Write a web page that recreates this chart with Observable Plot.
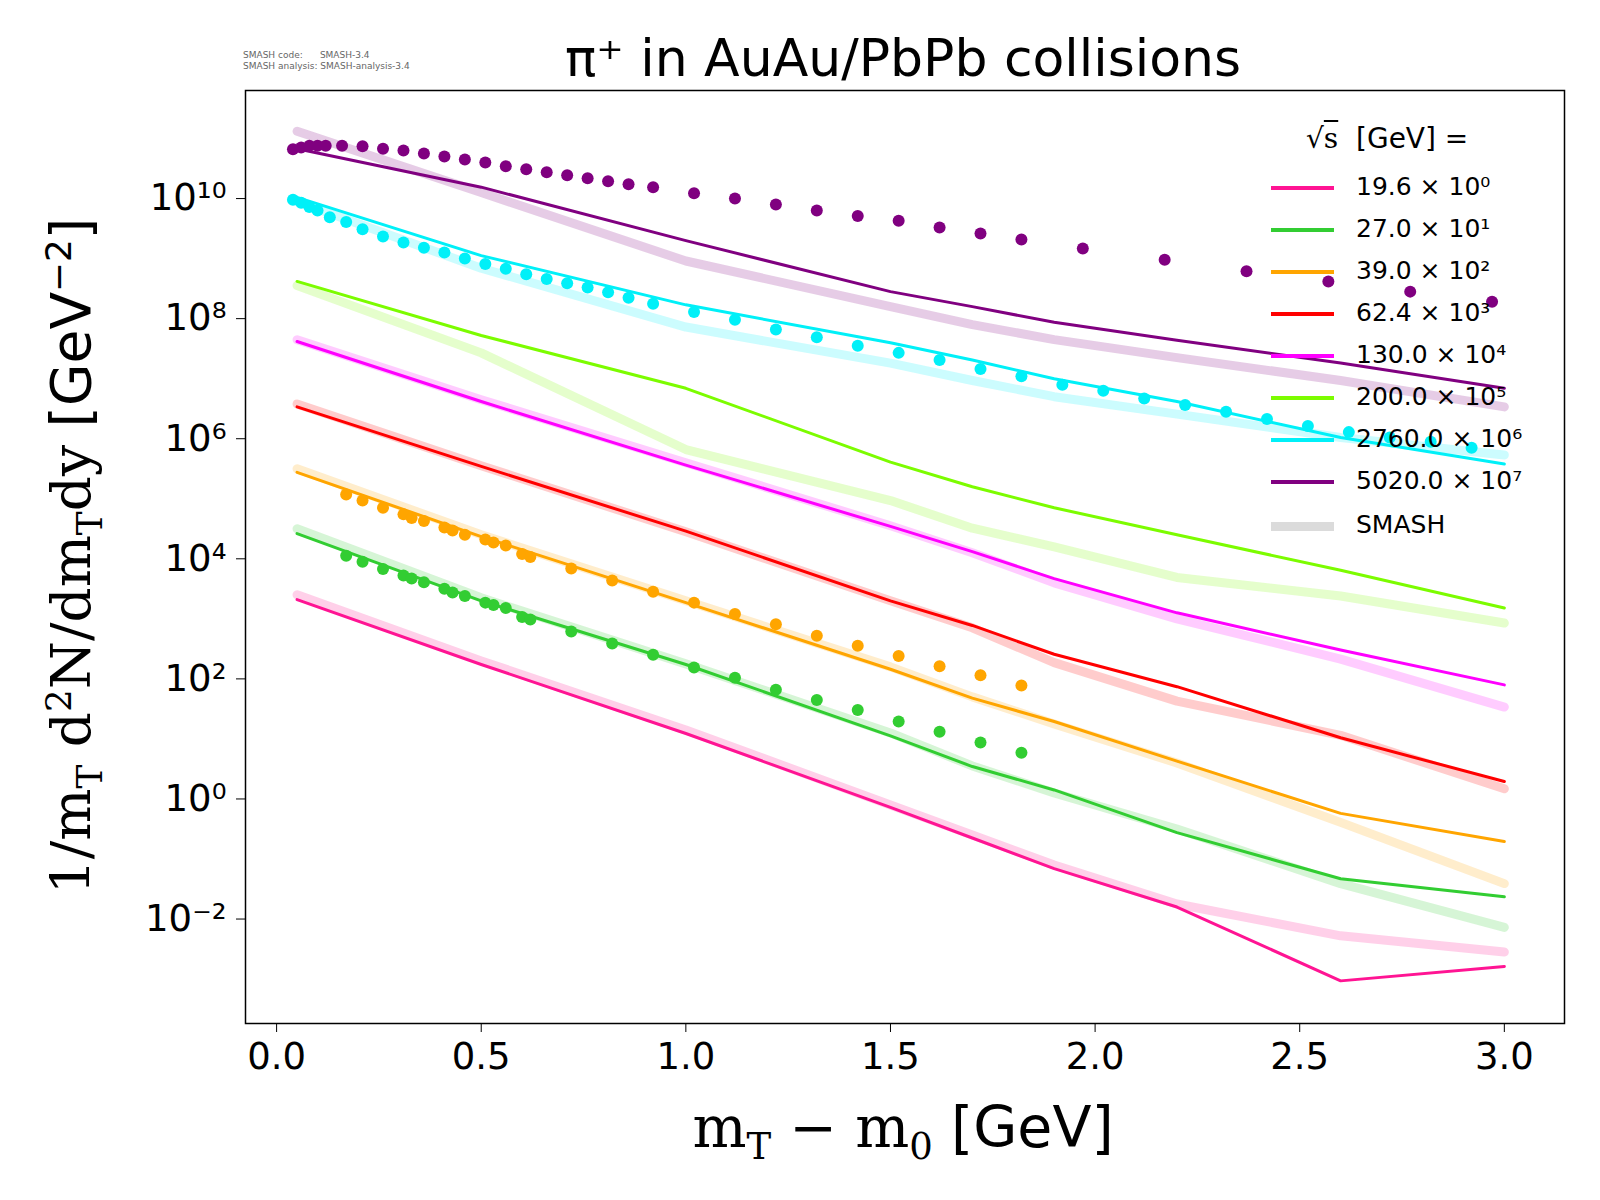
<!DOCTYPE html>
<html><head><meta charset="utf-8">
<script src="https://cdn.jsdelivr.net/npm/d3@7"></script>
<script src="https://cdn.jsdelivr.net/npm/@observablehq/plot@0.6"></script>
<style>
body{margin:0;background:#fff;font-family:"DejaVu Sans",sans-serif}
#wrap{position:relative;width:1600px;height:1200px}
.abs{position:absolute;white-space:nowrap}
.leg{position:absolute;left:1271px;font-size:25px}
.leg span{display:inline-block;width:63px;height:4px;vertical-align:middle;margin-right:22px}
</style>
</head><body>
<div id="wrap"><div id="chart"></div></div>
<script>
// x positions of the simulated/line curves
const xs = [0.05, 0.5, 1.0, 1.5, 1.7, 1.9, 2.2, 2.6, 3.0];
// log10 of the yield, per energy: line and SMASH band
const energies = ["19.6", "27.0", "39.0", "62.4", "130.0", "200.0", "2760.0", "5020.0"];
const colors = ["#ff1493", "#32cd32", "#ffa500", "#ff0000", "#ff00ff", "#7cfc00", "#00f0f8", "#800080"];
const lineLog = [
  [3.32, 2.24, 1.09, -0.14, -0.65, -1.16, -1.80, -3.03, -2.79],
  [4.42, 3.30, 2.24, 1.05, 0.54, 0.15, -0.56, -1.33, -1.63],
  [5.44, 4.37, 3.27, 2.16, 1.68, 1.29, 0.63, -0.24, -0.71],
  [6.53, 5.54, 4.46, 3.30, 2.89, 2.41, 1.87, 1.02, 0.29],
  [7.62, 6.62, 5.56, 4.54, 4.12, 3.67, 3.10, 2.48, 1.90],
  [8.62, 7.72, 6.84, 5.61, 5.20, 4.85, 4.40, 3.81, 3.18],
  [10.02, 9.05, 8.23, 7.60, 7.31, 7.00, 6.62, 6.02, 5.58],
  [10.83, 10.19, 9.30, 8.45, 8.20, 7.94, 7.64, 7.26, 6.84]
];
const smashLog = [
  [3.40, 2.30, 1.15, -0.10, -0.60, -1.10, -1.75, -2.28, -2.55],
  [4.50, 3.35, 2.25, 1.10, 0.55, 0.10, -0.50, -1.41, -2.14],
  [5.50, 4.40, 3.30, 2.20, 1.70, 1.25, 0.60, -0.39, -1.41],
  [6.58, 5.55, 4.45, 3.30, 2.85, 2.27, 1.63, 1.06, 0.17],
  [7.65, 6.65, 5.60, 4.55, 4.10, 3.60, 3.00, 2.33, 1.53],
  [8.55, 7.43, 5.82, 4.97, 4.51, 4.20, 3.69, 3.38, 2.93],
  [9.95, 8.84, 7.86, 7.26, 6.97, 6.70, 6.41, 6.02, 5.73],
  [11.12, 10.10, 8.96, 8.20, 7.90, 7.65, 7.35, 6.97, 6.53]
];
// experimental points
const xGO = [0.17,0.21,0.26,0.31,0.33,0.36,0.41,0.43,0.46,0.51,0.53,0.56,0.60,0.62,0.72,0.82,0.92,1.02,1.12,1.22,1.32,1.42,1.52,1.62,1.72,1.82];
const greenDots = [4.05,3.95,3.83,3.72,3.67,3.61,3.50,3.44,3.38,3.27,3.23,3.18,3.03,2.99,2.79,2.59,2.40,2.19,2.02,1.82,1.65,1.48,1.29,1.12,0.94,0.77];
const orangeDots = [5.07,4.97,4.85,4.74,4.68,4.63,4.52,4.47,4.40,4.32,4.27,4.22,4.08,4.03,3.84,3.64,3.45,3.27,3.08,2.91,2.72,2.55,2.38,2.21,2.06,1.89];
const xCyan = [0.04,0.06,0.08,0.10,0.13,0.17,0.21,0.26,0.31,0.36,0.41,0.46,0.51,0.56,0.61,0.66,0.71,0.76,0.81,0.86,0.92,1.02,1.12,1.22,1.32,1.42,1.52,1.62,1.72,1.82,1.92,2.02,2.12,2.22,2.32,2.42,2.52,2.62,2.72,2.82,2.92];
const cyanDots = [9.98,9.93,9.86,9.80,9.69,9.61,9.49,9.37,9.27,9.18,9.10,9.00,8.91,8.83,8.74,8.66,8.59,8.52,8.44,8.35,8.25,8.11,7.98,7.82,7.69,7.55,7.43,7.31,7.16,7.04,6.90,6.80,6.67,6.56,6.45,6.33,6.21,6.11,6.02,5.95,5.85];
const xPurple = [0.04,0.06,0.08,0.10,0.12,0.16,0.21,0.26,0.31,0.36,0.41,0.46,0.51,0.56,0.61,0.66,0.71,0.76,0.81,0.86,0.92,1.02,1.12,1.22,1.32,1.42,1.52,1.62,1.72,1.82,1.97,2.17,2.37,2.57,2.77,2.97];
const purpleDots = [10.82,10.85,10.88,10.88,10.88,10.88,10.87,10.83,10.80,10.75,10.70,10.65,10.60,10.54,10.49,10.44,10.39,10.34,10.29,10.24,10.19,10.09,10.00,9.90,9.80,9.71,9.63,9.52,9.42,9.32,9.17,8.98,8.79,8.62,8.45,8.28];
const yTicks = [-2, 0, 2, 4, 6, 8, 10];

const sup = s => String(s).replace(/-/g, "⁻").replace(/\d/g, d => "⁰¹²³⁴⁵⁶⁷⁸⁹"[d]);
const lines = [], smash = [];
energies.forEach((e, i) => xs.forEach((x, j) => {
  lines.push({e, x, y: 10 ** lineLog[i][j]});
  smash.push({e, x, y: 10 ** smashLog[i][j]});
}));
const pts = (X, Y, c) => X.map((x, i) => ({x, y: 10 ** Y[i], c}));
const dots = [
  ...pts(xGO, greenDots, colors[1]), ...pts(xGO, orangeDots, colors[2]),
  ...pts(xCyan, cyanDots, colors[6]), ...pts(xPurple, purpleDots, colors[7])
];

const chart = Plot.plot({
  width: 1600, height: 1185,
  marginLeft: 245, marginRight: 36, marginTop: 90, marginBottom: 162,
  style: {fontSize: "37px", fontFamily: "DejaVu Sans"},
  x: {domain: [-0.076, 3.147], ticks: [0, 0.5, 1, 1.5, 2, 2.5, 3], tickFormat: ".1f", label: null, tickSize: 9, tickPadding: 10},
  y: {type: "log", domain: [10 ** -3.74, 10 ** 11.8], ticks: yTicks.map(t => 10 ** t),
      tickFormat: d => "10" + sup(Math.round(Math.log10(d))), label: null, tickSize: 9, tickPadding: 10},
  color: {domain: energies, range: colors},
  marks: [
    Plot.line(smash, {x: "x", y: "y", stroke: "e", strokeWidth: 9, strokeOpacity: 0.2}),
    Plot.line(lines, {x: "x", y: "y", stroke: "e", strokeWidth: 3}),
    Plot.dot(dots, {x: "x", y: "y", fill: d => d.c, r: 6}),
    Plot.frame({strokeWidth: 1.5})
  ]
});
document.getElementById("chart").append(chart);

const wrap = document.getElementById("wrap");
const add = (html, style, cls = "abs") => {
  const d = document.createElement("div");
  d.className = cls; d.innerHTML = html; d.style.cssText = style; wrap.append(d);
};
add("π⁺ in AuAu/PbPb collisions", "left:903px;top:28px;transform:translateX(-50%);font-size:52px");
add("SMASH code:&nbsp;&nbsp;&nbsp;&nbsp;&nbsp; SMASH-3.4<br>SMASH analysis: SMASH-analysis-3.4", "left:243px;top:50px;font-size:9px;line-height:11px;color:#666");
add('<span style="font-family:\'DejaVu Serif\',serif">m<sub style="font-size:0.65em">T</sub> − m<sub style="font-size:0.65em">0</sub></span> [GeV]',
  "left:903px;top:1094px;transform:translateX(-50%);font-size:57px");
add('<span style="font-family:\'DejaVu Serif\',serif">1/m<sub style="font-size:0.65em">T</sub> d<sup style="font-size:0.65em">2</sup>N/dm<sub style="font-size:0.65em">T</sub>dy</span> [GeV<sup style="font-size:0.65em">−2</sup>]',
  "left:74px;top:556px;transform:translate(-50%,-50%) rotate(-90deg);font-size:55px");
add('√<span style="text-decoration:overline;font-family:\'DejaVu Serif\',serif">s</span>&nbsp; [GeV] =', "left:1306px;top:122px;font-size:28px");
energies.forEach((e, i) => add(`<span style="background:${colors[i]}"></span>${e} × 10${sup(i)}`,
  `top:${172 + i * 42}px`, "leg"));
add(`<span style="background:#ccc;height:9px;opacity:0.7"></span>SMASH`, "top:510px", "leg");
</script>
</body></html>
